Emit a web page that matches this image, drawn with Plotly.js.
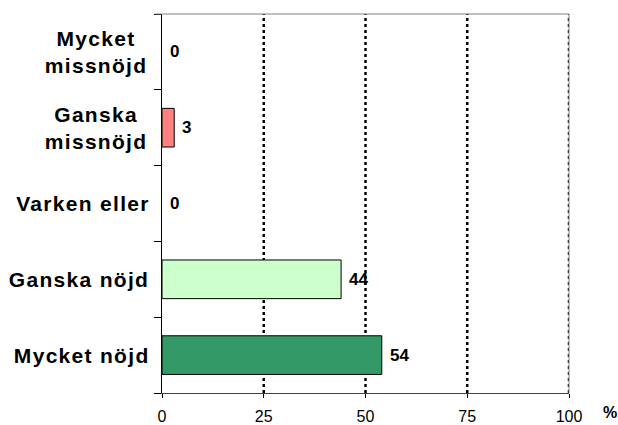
<!DOCTYPE html>
<html>
<head>
<meta charset="utf-8">
<script src="https://cdn.plot.ly/plotly-3.0.1.min.js"></script>
<style>
html,body{margin:0;padding:0;background:#fff;}
#chart{width:618px;height:425px;}
.annotation[data-index="0"] text,.annotation[data-index="1"] text,.annotation[data-index="2"] text,.annotation[data-index="3"] text,.annotation[data-index="4"] text{letter-spacing:1.3px;}
</style>
</head>
<body>
<div id="chart"></div>
<script>
// Data (bottom to top)
var categories = ["Mycket nöjd", "Ganska nöjd", "Varken eller", "Ganska missnöjd", "Mycket missnöjd"];
var categoryLabels = ["Mycket nöjd", "Ganska nöjd", "Varken eller", "Ganska<br>missnöjd", "Mycket<br>missnöjd"];
var values = [54, 44, 0, 3, 0];
var barColors = ["#339966", "#CCFFCC", "#FFFFFF", "#FF8080", "#FFFFFF"];
var tickValues = [0, 25, 50, 75, 100];
var tickLabels = ["0", "25", "50", "75", "100"];
var axisUnit = "%";

var font = "Liberation Sans, Arial, sans-serif";

var trace = {
  type: "bar",
  orientation: "h",
  y: categories,
  x: values,
  width: 0.51,
  marker: {color: barColors, line: {color: "#000000", width: values.map(function(v){ return v > 0 ? 1 : 0; })}},
  hoverinfo: "none"
};

var annotations = [];
categories.forEach(function(c, i){
  annotations.push({
    xref: "paper", yref: "y", x: 0, y: c, xanchor: "right", yanchor: "middle",
    xshift: -18, text: "<b>" + categoryLabels[i] + "</b>", showarrow: false, align: "center",
    font: {family: font, size: 21, color: "#000"}
  });
});
categories.forEach(function(c, i){
  annotations.push({
    xref: "x", yref: "y", x: values[i], y: c, xanchor: "left", yanchor: "middle",
    xshift: 6, text: "<b>" + values[i] + "</b>", showarrow: false,
    font: {family: font, size: 17, color: "#000"}
  });
});
annotations.push({
  xref: "paper", yref: "paper", x: 1, y: 0, xanchor: "center", yanchor: "middle",
  xshift: 41, yshift: -19, text: "<b>" + axisUnit + "</b>", showarrow: false,
  font: {family: font, size: 16, color: "#000"}
});

var shapes = [];
tickValues.filter(function(v){ return v > 0; }).forEach(function(v){
  shapes.push({type: "line", xref: "x", yref: "paper", x0: v, x1: v, y0: 0, y1: 1,
    line: {color: "#000", width: 2.5, dash: "3px,3px"}, layer: "below"});
});
shapes.push({type: "line", xref: "paper", yref: "paper", x0: -0.018, x1: 1, y0: 1, y1: 1,
  line: {color: "#808080", width: 1}, layer: "above"});
shapes.push({type: "line", xref: "paper", yref: "paper", x0: 1, x1: 1, y0: 0, y1: 1,
  line: {color: "#808080", width: 1}, layer: "below"});

var layout = {
  width: 618, height: 425,
  margin: {l: 162, r: 49, t: 14, b: 32},
  paper_bgcolor: "#fff", plot_bgcolor: "#fff",
  showlegend: false,
  xaxis: {
    range: [0, 100], tickvals: tickValues, ticktext: tickLabels,
    showgrid: false, zeroline: false,
    showline: true, linecolor: "#404040", linewidth: 1,
    ticks: "outside", ticklen: 4, tickcolor: "#000",
    ticklabelstandoff: 5,
    tickfont: {family: font, size: 16, color: "#000"},
    fixedrange: true
  },
  yaxis: {
    type: "category", categoryorder: "array", categoryarray: categories,
    range: [-0.5, 4.5],
    showticklabels: false, showgrid: false, zeroline: false,
    showline: true, linecolor: "#000", linewidth: 1,
    ticks: "outside", tickson: "boundaries", ticklen: 7, tickcolor: "#000",
    fixedrange: true
  },
  annotations: annotations,
  shapes: shapes
};

Plotly.newPlot("chart", [trace], layout, {displayModeBar: false, staticPlot: true});
</script>
</body>
</html>
